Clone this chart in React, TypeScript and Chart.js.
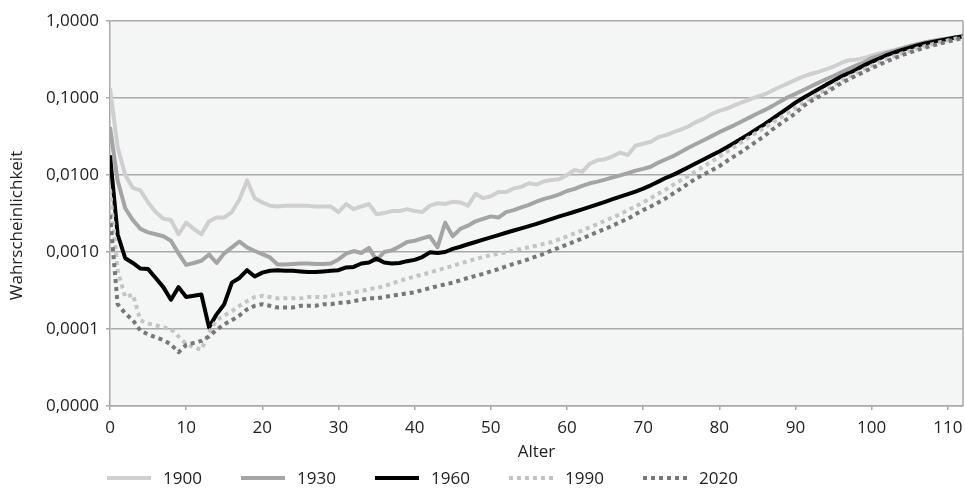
import React, { useEffect, useRef } from "react";
import { Chart, registerables } from "chart.js";

Chart.register(...registerables);

// ---- data ----
const ages: number[] = Array.from({ length: 113 }, (_, i) => i);

const v1900 = [
  0.135, 0.023, 0.010, 0.0068, 0.0063, 0.0044, 0.0033, 0.0027, 0.0026, 0.0017,
  0.0024, 0.0020, 0.0017, 0.0025, 0.0028, 0.0028, 0.0033, 0.0048, 0.0085, 0.0050,
  0.0044, 0.0040, 0.0039, 0.0040, 0.0040, 0.0040, 0.0040, 0.0039, 0.0039, 0.0039,
  0.0033, 0.0042, 0.0036, 0.0039, 0.0042, 0.0031, 0.0032, 0.0034, 0.0034, 0.0036,
  0.0034, 0.0033, 0.0040, 0.0043, 0.0042, 0.0045, 0.0044, 0.0040, 0.0057, 0.0050,
  0.0053, 0.0060, 0.0060, 0.0067, 0.0070, 0.0078, 0.0075, 0.0083, 0.0086, 0.0088,
  0.0100, 0.0116, 0.0110, 0.0140, 0.0155, 0.0160, 0.0175, 0.0195, 0.0182, 0.0240,
  0.0255, 0.0270, 0.031, 0.033, 0.036, 0.039, 0.043, 0.049, 0.054, 0.062,
  0.068, 0.073, 0.080, 0.088, 0.096, 0.104, 0.112, 0.125, 0.140, 0.155,
  0.172, 0.190, 0.205, 0.218, 0.235, 0.255, 0.285, 0.31, 0.315, 0.33,
  0.355, 0.38, 0.40, 0.42, 0.445, 0.47, 0.50, 0.525, 0.55, 0.575,
  0.595, 0.615, 0.635,
];

const v1930 = [
  0.042, 0.0085, 0.0037, 0.0026, 0.0020, 0.0018, 0.0017, 0.0016, 0.0014, 0.00096,
  0.00068, 0.00072, 0.00077, 0.00093, 0.00072, 0.00096, 0.00115, 0.00137, 0.00115, 0.00103,
  0.00094, 0.00085, 0.00069, 0.00069, 0.00070, 0.00071, 0.00071, 0.00070, 0.00070, 0.00071,
  0.00080, 0.00095, 0.00103, 0.00097, 0.00113, 0.00078, 0.00100, 0.00105, 0.00118, 0.00135,
  0.00140, 0.00150, 0.00160, 0.00115, 0.00240, 0.00160, 0.00200, 0.00220, 0.00250, 0.00270,
  0.00290, 0.00280, 0.00330, 0.00350, 0.00380, 0.00410, 0.00450, 0.00490, 0.00520, 0.00560,
  0.00620, 0.00660, 0.00720, 0.00780, 0.00820, 0.00870, 0.00930, 0.0099, 0.0106, 0.0114,
  0.0120, 0.0128, 0.0145, 0.0160, 0.0177, 0.0200, 0.0228, 0.0255, 0.0285, 0.0320,
  0.0360, 0.0400, 0.0445, 0.0500, 0.0560, 0.0630, 0.0700, 0.0790, 0.0900, 0.102,
  0.113, 0.126, 0.141, 0.157, 0.175, 0.193, 0.215, 0.240, 0.265, 0.290,
  0.330, 0.355, 0.385, 0.41, 0.44, 0.47, 0.50, 0.525, 0.55, 0.57,
  0.59, 0.615, 0.635,
];

const v1960 = [
  0.018, 0.0017, 0.00083, 0.00072, 0.00061, 0.00060, 0.00046, 0.00035, 0.00024, 0.00035,
  0.00026, 0.00027, 0.00028, 0.000105, 0.000155, 0.00021, 0.00040, 0.00046, 0.00058, 0.00048,
  0.00054, 0.00057, 0.00058, 0.00057, 0.00057, 0.00056, 0.00055, 0.00055, 0.00056, 0.00057,
  0.00058, 0.00063, 0.00064, 0.00071, 0.00073, 0.00082, 0.00073, 0.00071, 0.00072, 0.00076,
  0.00079, 0.00086, 0.00099, 0.00097, 0.00100, 0.00110, 0.00117, 0.00126, 0.00135, 0.00145,
  0.00155, 0.00166, 0.00178, 0.00190, 0.00203, 0.00217, 0.00232, 0.00250, 0.00270, 0.00290,
  0.00310, 0.00333, 0.00358, 0.00385, 0.00415, 0.00448, 0.00485, 0.00525, 0.00565, 0.00610,
  0.00665, 0.00735, 0.00820, 0.00920, 0.0101, 0.0113, 0.0127, 0.0143, 0.0160, 0.0180,
  0.0202, 0.0230, 0.0262, 0.0300, 0.0345, 0.0400, 0.0460, 0.0540, 0.0630, 0.0740,
  0.087, 0.100, 0.114, 0.130, 0.148, 0.167, 0.190, 0.210, 0.235, 0.265,
  0.295, 0.325, 0.36, 0.39, 0.42, 0.45, 0.48, 0.51, 0.535, 0.56,
  0.585, 0.61, 0.63,
];

const v1990 = [
  0.0065, 0.00058, 0.00026, 0.00028, 0.00013, 0.000118, 0.000112, 0.000105, 0.0001, 0.00008,
  0.000064, 0.000058, 0.000054, 0.00009, 0.00013, 0.00015, 0.00017, 0.00020, 0.00023, 0.00026,
  0.00027, 0.00026, 0.00025, 0.00025, 0.00025, 0.00025, 0.00026, 0.00026, 0.00026, 0.00027,
  0.00028, 0.00029, 0.00030, 0.00031, 0.00033, 0.00034, 0.00036, 0.00039, 0.00042, 0.00045,
  0.00048, 0.00051, 0.00054, 0.00058, 0.00062, 0.00066, 0.00071, 0.00076, 0.00081, 0.00086,
  0.00091, 0.00095, 0.00099, 0.00104, 0.00110, 0.00115, 0.00121, 0.00128, 0.00135, 0.00147,
  0.0016, 0.00175, 0.0019, 0.0021, 0.0023, 0.00255, 0.0028, 0.0031, 0.0035, 0.0039,
  0.0044, 0.0050, 0.0057, 0.0065, 0.0075, 0.0086, 0.0099, 0.0113, 0.0130, 0.0150,
  0.0173, 0.0200, 0.0232, 0.0270, 0.0313, 0.0360, 0.0415, 0.0480, 0.0555, 0.0640,
  0.0740, 0.0860, 0.0990, 0.113, 0.129, 0.147, 0.167, 0.188, 0.210, 0.235,
  0.262, 0.29, 0.32, 0.35, 0.38, 0.41, 0.44, 0.47, 0.50, 0.53,
  0.56, 0.59, 0.62,
];

const v2020 = [
  0.0030, 0.00021, 0.00016, 0.00013, 0.000095, 0.000085, 0.000078, 0.000072, 0.000063, 0.00005,
  0.000062, 0.000066, 0.000070, 0.000080, 0.000098, 0.000115, 0.00013, 0.00015, 0.00018, 0.00020,
  0.00021, 0.00020, 0.00019, 0.00019, 0.00019, 0.00020, 0.00020, 0.00020, 0.00021, 0.00021,
  0.00022, 0.00022, 0.00023, 0.00024, 0.00025, 0.00025, 0.00026, 0.00027, 0.00028, 0.00029,
  0.00030, 0.00032, 0.00034, 0.00036, 0.00038, 0.00040, 0.00043, 0.00046, 0.00049, 0.00052,
  0.00056, 0.00060, 0.00065, 0.00070, 0.00075, 0.00081, 0.00088, 0.00095, 0.00105, 0.00114,
  0.00125, 0.00137, 0.0015, 0.00165, 0.00182, 0.002, 0.0022, 0.00245, 0.0027, 0.0031,
  0.0035, 0.0039, 0.0044, 0.0050, 0.0058, 0.0067, 0.0078, 0.0091, 0.0102, 0.0115,
  0.0130, 0.0152, 0.0176, 0.0203, 0.0237, 0.0278, 0.0325, 0.0392, 0.046, 0.054,
  0.063, 0.078, 0.091, 0.103, 0.117, 0.135, 0.156, 0.175, 0.196, 0.218,
  0.245, 0.27, 0.30, 0.33, 0.36, 0.39, 0.42, 0.45, 0.48, 0.51,
  0.54, 0.57, 0.60,
];

const seriesNames = ["1900", "1930", "1960", "1990", "2020"];
const seriesValues = [v1900, v1930, v1960, v1990, v2020];

const xTickValues = [0, 10, 20, 30, 40, 50, 60, 70, 80, 90, 100, 110];
const yTickValues = [0.00001, 0.0001, 0.001, 0.01, 0.1, 1];
const yTitle = "Wahrscheinlichkeit";
const xTitle = "Alter";

// ---- styles ----
const seriesColors = ["#cfcfd2", "#a4a4a7", "#000000", "#c4c4c7", "#76767b"];
const seriesDashes: (number[] | null)[] = [null, null, null, [4, 4], [4, 4]];
const FONT_FAMILY = "'Open Sans', 'Noto Sans', sans-serif";
const FONT_SIZE = 17;
const TEXT_COLOR = "#222222";
const GRID_COLOR = "#a9a9ac";
const PLOT_BG = "#f4f5f5";

const plotBgPlugin = {
  id: "plotBg",
  beforeDraw(chart: any) {
    const { ctx, chartArea: a } = chart;
    ctx.save();
    ctx.fillStyle = PLOT_BG;
    ctx.fillRect(a.left, a.top, a.right - a.left, a.bottom - a.top);
    ctx.strokeStyle = GRID_COLOR;
    ctx.lineWidth = 1.5;
    ctx.beginPath();
    ctx.moveTo(a.right, a.top);
    ctx.lineTo(a.right, a.bottom);
    ctx.stroke();
    ctx.restore();
  },
  afterDraw(chart: any) {
    // rotated y-axis title, placed a little below the plot-area centre as in the reference
    const { ctx, chartArea: a } = chart;
    ctx.save();
    ctx.fillStyle = TEXT_COLOR;
    ctx.font = `${FONT_SIZE}px ${FONT_FAMILY}`;
    ctx.textAlign = "center";
    ctx.textBaseline = "middle";
    ctx.translate(17.5, (a.top + a.bottom) / 2 + 12);
    ctx.rotate(-Math.PI / 2);
    ctx.fillText(yTitle, 0, 0);
    ctx.restore();
  },
};

export default function App() {
  const canvasRef = useRef<HTMLCanvasElement>(null);

  useEffect(() => {
    const font = { family: FONT_FAMILY, size: FONT_SIZE };
    const chart = new Chart(canvasRef.current as HTMLCanvasElement, {
      type: "line",
      data: {
        datasets: seriesNames.map((name, si) => ({
          label: name,
          data: ages.map((a, i) => ({ x: a, y: seriesValues[si][i] })),
          borderColor: seriesColors[si],
          backgroundColor: seriesColors[si],
          borderWidth: 4,
          borderDash: seriesDashes[si] || [],
          borderCapStyle: "butt",
          borderJoinStyle: "round",
          pointRadius: 0,
          pointHoverRadius: 0,
          fill: false,
          tension: 0,
          order: -si,
        })),
      },
      options: {
        animation: false,
        responsive: false,
        events: [],
        layout: { padding: { left: 0, top: 21, right: 2, bottom: 27 } },
        plugins: {
          legend: { display: false },
          tooltip: { enabled: false },
        },
        scales: {
          x: {
            type: "linear",
            min: 0,
            max: 112,
            afterBuildTicks: (s: any) => {
              s.ticks = xTickValues.map((v) => ({ value: v }));
            },
            afterFit: (s: any) => {
              s.height = 56;
              s.paddingLeft = 0;
              s.paddingRight = 0;
            },
            grid: {
              drawOnChartArea: false,
              drawTicks: true,
              tickLength: 4,
              color: GRID_COLOR,
              lineWidth: 1.5,
            },
            border: { color: GRID_COLOR, width: 1.5 },
            ticks: {
              font,
              color: TEXT_COLOR,
              padding: 8,
              maxRotation: 0,
              autoSkip: false,
            },
            title: {
              display: true,
              text: xTitle,
              font,
              color: TEXT_COLOR,
              padding: { top: 0, bottom: 0 },
            },
          },
          y: {
            type: "logarithmic",
            min: 0.00001,
            max: 1,
            afterBuildTicks: (s: any) => {
              s.ticks = yTickValues.map((v) => ({ value: v, major: false }));
            },
            afterFit: (s: any) => {
              s.width = 110;
            },
            grid: {
              drawTicks: true,
              tickLength: 4,
              color: GRID_COLOR,
              lineWidth: 1.5,
            },
            border: { color: GRID_COLOR, width: 1.5 },
            ticks: {
              font,
              color: TEXT_COLOR,
              padding: 7,
              autoSkip: false,
              callback: (v: any) => Number(v).toFixed(4).replace(".", ","),
            },
            title: { display: false },
          },
        },
      } as any,
      plugins: [plotBgPlugin],
    });
    return () => chart.destroy();
  }, []);

  return (
    <div
      style={{
        position: "absolute",
        left: 0,
        top: 0,
        width: 965,
        height: 489,
        background: "#ffffff",
        overflow: "hidden",
      }}
    >
      <canvas
        ref={canvasRef}
        width={965}
        height={489}
        style={{ position: "absolute", left: 0, top: 0, width: 965, height: 489 }}
      />
      <div
        style={{
          position: "absolute",
          left: 107,
          top: 466,
          display: "flex",
          fontFamily: FONT_FAMILY,
          fontSize: FONT_SIZE,
          color: TEXT_COLOR,
          lineHeight: "24px",
        }}
      >
        {seriesNames.map((name, si) => (
          <div
            key={name}
            style={{ width: 134, display: "flex", alignItems: "center", height: 24 }}
          >
            <span
              style={{
                display: "inline-block",
                width: 44,
                height: 4,
                marginRight: 12,
                background: seriesDashes[si]
                  ? `repeating-linear-gradient(to right, ${seriesColors[si]} 0px, ${seriesColors[si]} 4px, transparent 4px, transparent 8px)`
                  : seriesColors[si],
              }}
            />
            <span>{name}</span>
          </div>
        ))}
      </div>
    </div>
  );
}
